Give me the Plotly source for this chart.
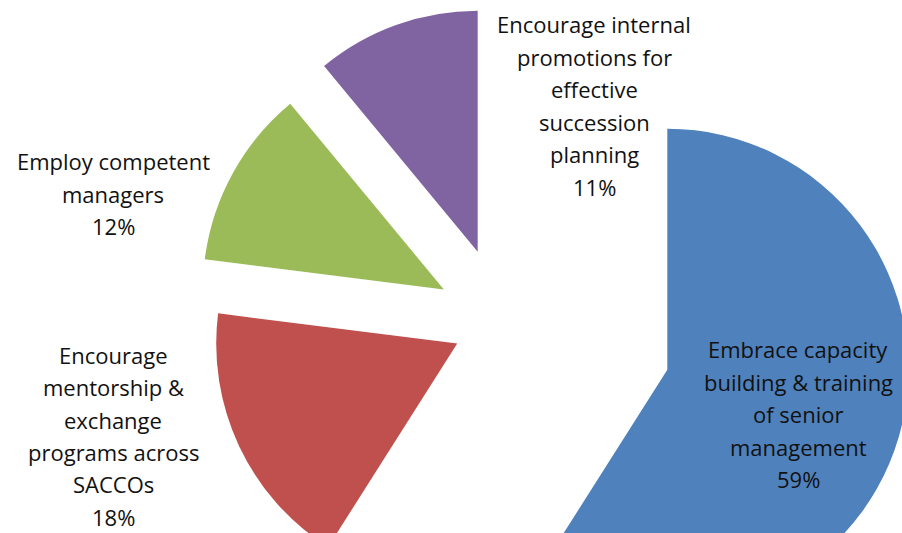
import numpy as np
import plotly.graph_objects as go

# ---- data ----
categories = [
    "Embrace capacity building & training of senior management",
    "Encourage mentorship & exchange programs across SACCOs",
    "Employ competent managers",
    "Encourage internal promotions for effective succession planning",
]
values = [59, 18, 12, 11]
label_lines = [
    ["Embrace capacity", "building & training", "of senior", "management"],
    ["Encourage", "mentorship &", "exchange", "programs across", "SACCOs"],
    ["Employ competent", "managers"],
    ["Encourage internal", "promotions for", "effective", "succession", "planning"],
]

# ---- style ----
colors = ["#4F81BD", "#C0504D", "#9BBB59", "#8064A2"]
explode = [0.71, 0.21, 0.28, 0.31]          # pull of each slice, fraction of radius
W, H = 1000, 700                             # figure canvas (window shows top-left 902x533)
CX, CY = 503, 322                            # common pie centre (px, y down)
R = 241                                      # pie radius (px)
label_pos = [(798, 357), (113, 363), (113, 169), (594, 32)]  # centre x, first baseline y
line_gap = [32.6, 32.3, 32.6, 32.6]
FONT = dict(family="Open Sans", size=22, color="#111111")

total = float(sum(values))
cum = np.concatenate([[0], np.cumsum(values)[:-1]])

fig = go.Figure()
for i, v in enumerate(values):
    mid = np.deg2rad((cum[i] + v / 2.0) / total * 360.0)
    ax = CX + explode[i] * R * np.sin(mid)
    ay = CY - explode[i] * R * np.cos(mid)
    cols = [colors[j] if j == i else "rgba(0,0,0,0)" for j in range(len(values))]
    fig.add_trace(go.Pie(
        values=values, labels=categories, sort=False, direction="clockwise",
        rotation=0, textinfo="none", hoverinfo="skip", showlegend=False,
        marker=dict(colors=cols, line=dict(width=0)),
        domain=dict(x=[(ax - R) / W, (ax + R) / W],
                    y=[1 - (ay + R) / H, 1 - (ay - R) / H]),
    ))

annotations = []
for i, v in enumerate(values):
    lines = label_lines[i] + [f"{round(100 * v / total)}%"]
    x0, y0 = label_pos[i]
    for k, t in enumerate(lines):
        yb = y0 + k * line_gap[i]
        annotations.append(dict(
            text=t, x=x0 / W, y=1 - (yb - 8) / H, xref="paper", yref="paper",
            xanchor="center", yanchor="middle", showarrow=False, font=FONT,
            borderpad=0,
        ))

fig.update_layout(
    width=W, height=H, margin=dict(l=0, r=0, t=0, b=0),
    paper_bgcolor="white", plot_bgcolor="white", annotations=annotations,
)

fig.write_html(
    "out.html",
    post_script="document.body.style.margin='0';document.body.style.overflow='hidden';"
                "document.documentElement.style.overflow='hidden';",
)
